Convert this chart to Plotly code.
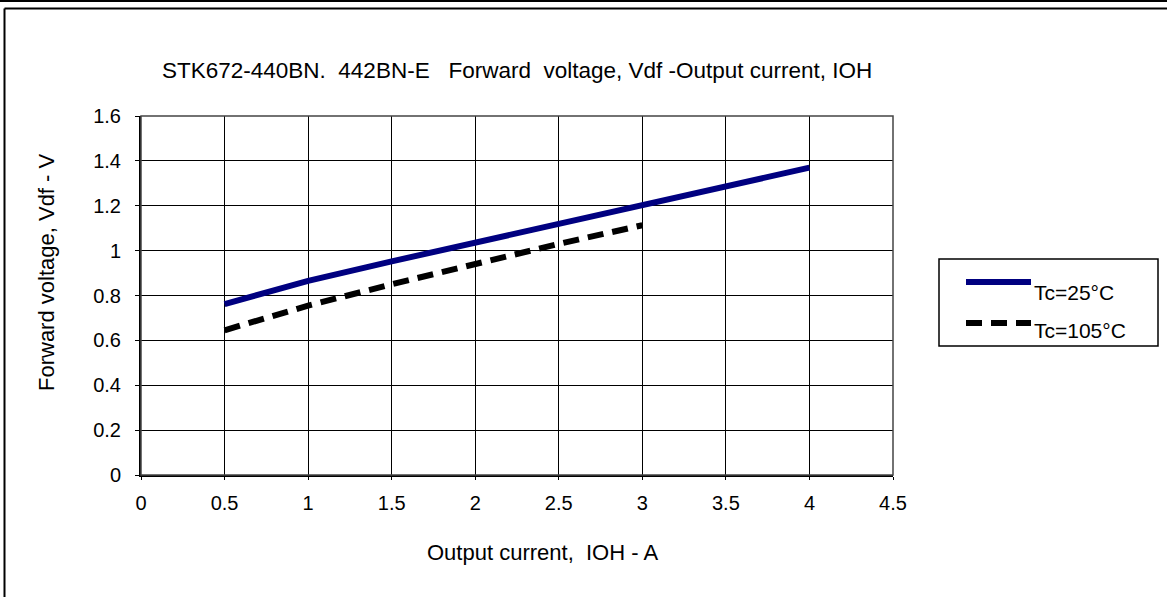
import plotly.graph_objects as go

# Data
current_25 = [0.5, 1.0, 1.5, 2.0, 2.5, 3.0, 3.5, 4.0]
vdf_25 = [0.762, 0.865, 0.952, 1.035, 1.12, 1.205, 1.285, 1.37]
current_105 = [0.5, 1.0, 1.5, 2.0, 2.5, 3.0]
vdf_105 = [0.645, 0.755, 0.85, 0.94, 1.03, 1.113]
x_ticks = [0, 0.5, 1, 1.5, 2, 2.5, 3, 3.5, 4, 4.5]
y_ticks = [0, 0.2, 0.4, 0.6, 0.8, 1.0, 1.2, 1.4, 1.6]
x_tick_labels = ["0", "0.5", "1", "1.5", "2", "2.5", "3", "3.5", "4", "4.5"]
y_tick_labels = ["0", "0.2", "0.4", "0.6", "0.8", "1", "1.2", "1.4", "1.6"]
series_names = ["Tc=25°C", "Tc=105°C"]

FONT = "Liberation Sans, Arial, sans-serif"
W, H = 1167, 597
L, R, T, B = 141, 274, 116, 122
pw = W - L - R
ph = H - T - B

def px_to_paper_x(px):
    return (px - L) / pw

def px_to_paper_y(py):
    return (H - B - py) / ph

fig = go.Figure()
fig.add_trace(go.Scatter(x=current_25, y=vdf_25, mode="lines", name=series_names[0],
                         line=dict(color="#000080", width=6), showlegend=False))
fig.add_trace(go.Scatter(x=current_105, y=vdf_105, mode="lines", name=series_names[1],
                         line=dict(color="#000000", width=6, dash="16px,9px"), showlegend=False))

shapes = []
# outer frame
shapes.append(dict(type="line", xref="paper", yref="paper", x0=px_to_paper_x(0), x1=px_to_paper_x(W),
                   y0=px_to_paper_y(1), y1=px_to_paper_y(1), line=dict(color="black", width=2)))
shapes.append(dict(type="line", xref="paper", yref="paper", x0=px_to_paper_x(4.5), x1=px_to_paper_x(W),
                   y0=px_to_paper_y(8.5), y1=px_to_paper_y(8.5), line=dict(color="black", width=2)))
shapes.append(dict(type="line", xref="paper", yref="paper", x0=px_to_paper_x(4.5), x1=px_to_paper_x(4.5),
                   y0=px_to_paper_y(8.5), y1=px_to_paper_y(H + 2), line=dict(color="black", width=2)))
# legend box
shapes.append(dict(type="rect", xref="paper", yref="paper", x0=px_to_paper_x(939), x1=px_to_paper_x(1158),
                   y0=px_to_paper_y(346), y1=px_to_paper_y(259), line=dict(color="black", width=1.5),
                   fillcolor="white"))
shapes.append(dict(type="line", xref="paper", yref="paper", x0=px_to_paper_x(966), x1=px_to_paper_x(1031),
                   y0=px_to_paper_y(282), y1=px_to_paper_y(282), line=dict(color="#000080", width=6)))
shapes.append(dict(type="line", xref="paper", yref="paper", x0=px_to_paper_x(966), x1=px_to_paper_x(1031),
                   y0=px_to_paper_y(323), y1=px_to_paper_y(323),
                   line=dict(color="black", width=6, dash="16px,9px")))

annotations = [
    dict(text=series_names[0], xref="paper", yref="paper", x=px_to_paper_x(1032), y=px_to_paper_y(292),
         xanchor="left", yanchor="middle", showarrow=False, font=dict(family=FONT, size=21, color="black")),
    dict(text=series_names[1], xref="paper", yref="paper", x=px_to_paper_x(1032), y=px_to_paper_y(330),
         xanchor="left", yanchor="middle", showarrow=False, font=dict(family=FONT, size=21, color="black")),
    dict(text="STK672-440BN.  442BN-E   Forward  voltage, Vdf -Output current, IOH", xref="paper", yref="paper",
         x=px_to_paper_x(160), y=px_to_paper_y(71), xanchor="left", yanchor="middle", showarrow=False,
         font=dict(family=FONT, size=22.5, color="black")),
    dict(text="Output current,  IOH - A", xref="paper", yref="paper",
         x=px_to_paper_x(542), y=px_to_paper_y(552), xanchor="center", yanchor="middle", showarrow=False,
         font=dict(family=FONT, size=22, color="black")),
    dict(text="Forward voltage, Vdf - V", xref="paper", yref="paper", textangle=-90,
         x=px_to_paper_x(46), y=px_to_paper_y(272), xanchor="center", yanchor="middle", showarrow=False,
         font=dict(family=FONT, size=22, color="black")),
]

fig.update_layout(
    width=W, height=H,
    margin=dict(l=L, r=R, t=T, b=B, autoexpand=False),
    paper_bgcolor="white", plot_bgcolor="white",
    showlegend=False,
    shapes=shapes, annotations=annotations,
    font=dict(family=FONT, size=20, color="black"),
)
fig.update_xaxes(range=[0, 4.5], tickvals=x_ticks, ticktext=x_tick_labels,
                 showgrid=True, gridcolor="black", gridwidth=1, zeroline=False,
                 showline=True, linecolor="black", linewidth=2, mirror=False,
                 ticks="outside", ticklen=3, tickcolor="black", ticklabelstandoff=6,
                 tickfont=dict(family=FONT, size=20, color="black"))
fig.update_yaxes(range=[0, 1.6], tickvals=y_ticks, ticktext=y_tick_labels,
                 showgrid=True, gridcolor="black", gridwidth=1, zeroline=False,
                 showline=True, linecolor="black", linewidth=2, mirror=False,
                 ticks="outside", ticklen=4, tickcolor="black", ticklabelstandoff=10,
                 tickfont=dict(family=FONT, size=20, color="black"))
# top and right border of plot area
fig.add_shape(type="rect", xref="paper", yref="paper", x0=0, x1=1, y0=0, y1=1,
              line=dict(color="#444444", width=1.5), layer="above")

fig.write_html("out.html", config={"displayModeBar": False},
               post_script="document.body.style.margin='0';document.body.style.overflow='hidden';")
